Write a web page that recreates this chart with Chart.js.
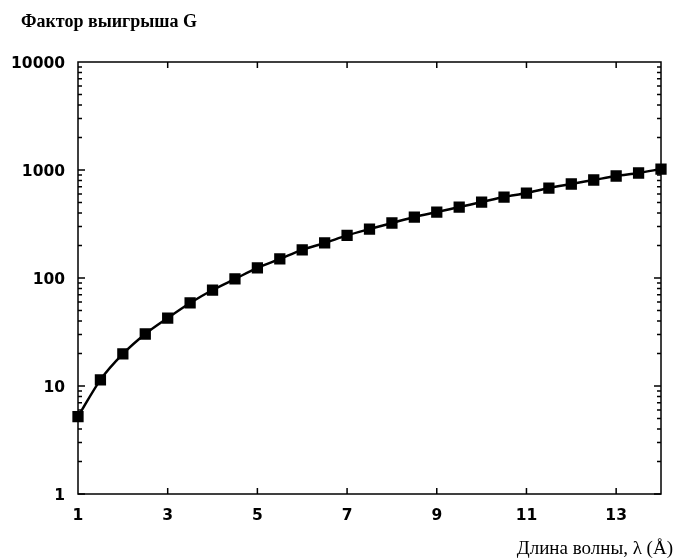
<!DOCTYPE html>
<html>
<head>
    <meta charset="utf-8">
    <script type="text/javascript" src="https://cdn.jsdelivr.net/npm/chart.js@4/dist/chart.umd.min.js"></script>
    <style>
        body { margin: 0; background: #fff; }
    </style>
</head>
<body>
<canvas id="myChart" width="675" height="559"></canvas>

<script>
    // wavelength, angstrom
    var wavelength = [1, 1.5, 2, 2.5, 3, 3.5, 4, 4.5, 5, 5.5, 6, 6.5, 7, 7.5,
        8, 8.5, 9, 9.5, 10, 10.5, 11, 11.5, 12, 12.5, 13, 13.5, 14];
    // gain factor G
    var gain = [5.2, 11.4, 19.8, 30.3, 42.6, 58.7, 77.4, 98, 124, 150, 182, 211, 248, 284,
        323, 367, 408, 454, 505, 562, 612, 681, 742, 808, 880, 938, 1021];
    var xTicks = [1, 3, 5, 7, 9, 11, 13];
    var yTicks = [1, 10, 100, 1000, 10000];

    var yTitle = "Фактор выигрыша G";
    var xTitle = "Длина волны, λ (Å)";

    var points = [];
    for (var i = 0; i < wavelength.length; i++)
        points.push({x: wavelength[i], y: gain[i]});

    // frame, inward ticks and captions
    var framePlugin = {
        id: 'frame',
        afterDraw: function (chart) {
            var ctx = chart.ctx;
            var a = chart.chartArea;
            var xs = chart.scales.x;
            var ys = chart.scales.y;
            ctx.save();
            ctx.strokeStyle = '#000';
            ctx.lineWidth = 1.5;
            ctx.strokeRect(a.left, a.top, a.right - a.left, a.bottom - a.top);

            ctx.beginPath();
            for (var d = 1; d < 10000; d *= 10) {
                for (var m = 1; m < 10; m++) {
                    var py = ys.getPixelForValue(d * m);
                    var len = m === 1 ? 7 : 4;
                    ctx.moveTo(a.left, py); ctx.lineTo(a.left + len, py);
                    ctx.moveTo(a.right, py); ctx.lineTo(a.right - len, py);
                }
            }
            for (var k = 1; k < xTicks.length; k++) {
                var px = xs.getPixelForValue(xTicks[k]);
                ctx.moveTo(px, a.bottom); ctx.lineTo(px, a.bottom - 6);
                ctx.moveTo(px, a.top); ctx.lineTo(px, a.top + 6);
            }
            ctx.stroke();

            ctx.fillStyle = '#000';
            ctx.font = 'bold 18px "Liberation Serif"';
            ctx.textAlign = 'left';
            ctx.textBaseline = 'middle';
            ctx.fillText(yTitle, 21, 22);
            ctx.font = '19px "Liberation Serif"';
            ctx.textAlign = 'right';
            ctx.fillText(xTitle, 673, 549);
            ctx.restore();
        }
    };

    var ctx = document.getElementById("myChart");
    var myChart = new Chart(ctx, {
        type: 'line',
        data: {
            datasets: [{
                data: points,
                borderColor: '#000',
                backgroundColor: '#000',
                borderWidth: 2.5,
                pointStyle: 'rect',
                pointRadius: 6.2,
                pointHoverRadius: 6.2,
                cubicInterpolationMode: 'monotone',
                clip: false
            }]
        },
        options: {
            responsive: false,
            animation: false,
            layout: {
                padding: {left: 0, top: 62, right: 14, bottom: 0}
            },
            plugins: {
                legend: {display: false},
                tooltip: {enabled: false}
            },
            scales: {
                x: {
                    type: 'linear',
                    min: 1,
                    max: 14,
                    afterBuildTicks: function (scale) {
                        scale.ticks = xTicks.map(function (v) { return {value: v}; });
                    },
                    afterFit: function (scale) { scale.height = 65; },
                    grid: {display: false, drawTicks: false},
                    border: {display: false},
                    ticks: {
                        color: '#000',
                        padding: 13,
                        maxRotation: 0,
                        font: {family: '"DejaVu Sans"', size: 15.5, weight: 'bold'}
                    }
                },
                y: {
                    type: 'logarithmic',
                    min: 1,
                    max: 10000,
                    afterBuildTicks: function (scale) {
                        scale.ticks = yTicks.map(function (v) { return {value: v}; });
                    },
                    afterFit: function (scale) { scale.width = 78; },
                    grid: {display: false, drawTicks: false},
                    border: {display: false},
                    ticks: {
                        color: '#000',
                        padding: 13,
                        labelOffset: 2,
                        font: {family: '"DejaVu Sans"', size: 15.5, weight: 'bold'},
                        callback: function (v) { return String(v); }
                    }
                }
            }
        },
        plugins: [framePlugin]
    });
</script>
</body>
</html>
